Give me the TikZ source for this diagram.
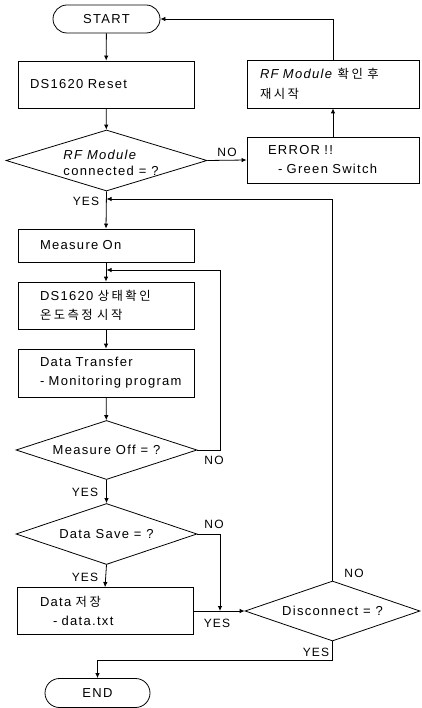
\documentclass[tikz,border=0pt]{standalone}
\usepackage{fontspec}
\setmainfont{Liberation Sans}[LetterSpace=10]
\newfontfamily\kr{Noto Sans CJK KR}[LetterSpace=20,Scale=0.95]
\usetikzlibrary{arrows.meta,shapes.geometric,shapes.misc}
\tikzset{
  term/.style={draw,rounded rectangle,minimum width=107pt,minimum height=28pt,inner sep=0pt},
  proc/.style={draw,text width=176pt,inner xsep=0pt,inner ysep=0pt,minimum height=47pt,align=left},
  dec/.style={draw,diamond,inner sep=0pt},
  lbl/.style={font=\fontsize{12}{14}\selectfont,inner sep=0pt},
  arr/.style={-{Latex[length=5pt,width=4.5pt]}},
}

\begin{document}
\begin{tikzpicture}[x=1pt,y=-1pt,line width=0.8pt,every node/.style={font=\fontsize{13}{19}\selectfont}]
\useasboundingbox (0,0) rectangle (421,708);
\node[term] (start) at (106.5,19) {START};
\node[proc] (reset) at (106,84.5) {\hspace*{12pt}DS1620 Reset};
\node[dec,minimum width=201pt,minimum height=61pt] (d1) at (106.5,160.5) {};
\node[align=left,font=\fontsize{13}{16}\selectfont] (t1) at (111,163) {\textit{RF Module}\\connected = ?};
\node[proc,text width=172pt,minimum height=46pt] (err) at (333,160) {\hspace*{21pt}ERROR !!\\\hspace*{31pt}- Green Switch};
\node[proc,text width=172pt,minimum height=48pt,font=\fontsize{13}{20}\selectfont] (rfchk) at (333,84) {\hspace*{13pt}\textit{RF Module} {\kr 확인 후}\\\hspace*{13pt}{\kr 재시작}};
\node[proc,minimum height=33pt] (meas) at (106,245.5) {\hspace*{22pt}Measure On};
\node[proc] (stat) at (106,305.5) {\hspace*{22pt}DS1620 {\kr 상태확인}\\\hspace*{22pt}{\kr 온도측정 시작}};
\node[proc,minimum height=48pt] (xfer) at (106,373) {\hspace*{22pt}Data Transfer\\\hspace*{22pt}- Monitoring program};
\node[dec,minimum width=181pt,minimum height=59pt] (d2) at (106.5,450) {};
\node (t2) at (106.5,450) {Measure Off = ?};
\node[dec,minimum width=181pt,minimum height=61pt] (d3) at (106.5,534) {};
\node (t3) at (106.5,534) {Data Save = ?};
\node[proc,minimum height=47pt] (save) at (105,611) {\hspace*{23pt}Data {\kr 저장}\\\hspace*{36pt}- data.txt};
\node[dec,minimum width=175pt,minimum height=60pt] (d4) at (332.5,611) {};
\node (t4) at (332.5,611) {Disconnect = ?};
\node[term,minimum width=105pt,minimum height=29pt] (end) at (97.5,693) {END};
\coordinate (j0) at (106.5,199);
\coordinate (j1) at (106.5,270);
\coordinate (j2) at (220,611);
\draw[arr] (start)--(reset);
\draw[arr] (reset)--(d1);
\draw[arr] (d1.east)--(err.west);
\draw[arr] (err)--(rfchk);
\draw[arr] (rfchk.north)|-(start.east);
\draw[arr] (d1.south)--(meas.north);
\draw[arr] (meas)--(stat);
\draw[arr] (stat)--(xfer);
\draw[arr] (xfer)--(d2);
\draw[arr] (d2.east)-|(220,270)--(j1);
\draw[arr] (d2.south)--(d3.north);
\draw[arr] (d3.east)-|(j2);
\draw[arr] (d3.south)--(save.north);
\draw[arr] (save.east)--(d4.west);
\draw[arr] (d4.north)|-(j0);
\draw[arr] (d4.south)--++(0,19)-|(end.north);
\foreach \t/\p in {NO/{227,152},YES/{86,201},NO/{214,460},YES/{85,492},NO/{214,524},YES/{85,577},YES/{217,623},NO/{354,573},YES/{316,652}}
  \node[lbl] at (\p) {\t};
\end{tikzpicture}
\end{document}
